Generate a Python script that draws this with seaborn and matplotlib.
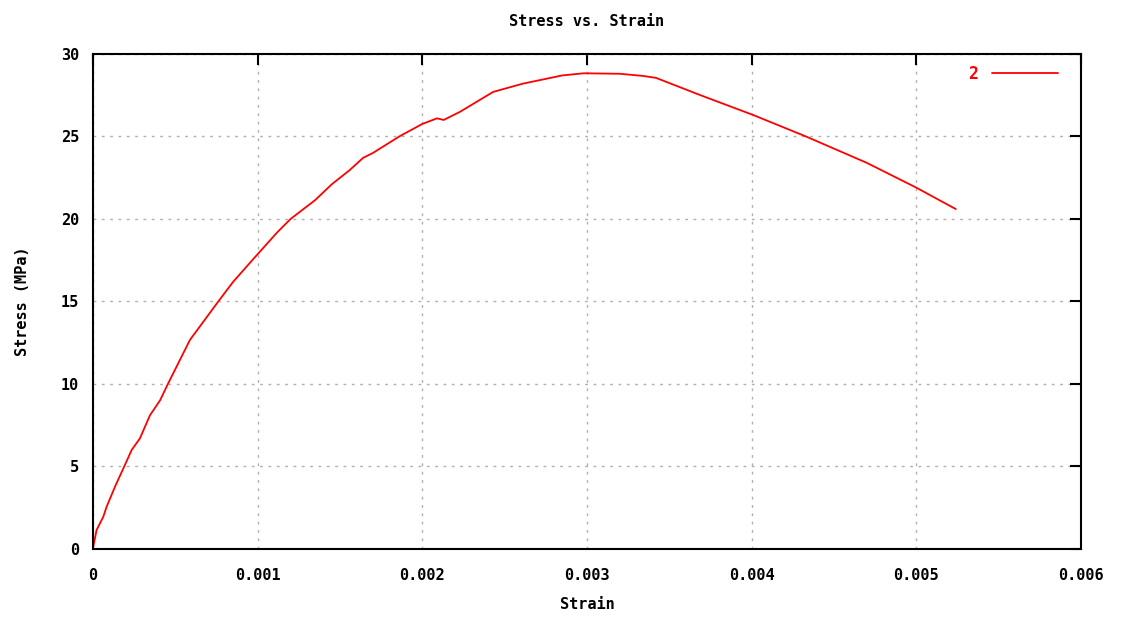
import pandas as pd
import matplotlib
matplotlib.use("Agg")
import matplotlib.pyplot as plt
import seaborn as sns

# data
strain = [0, 0.000002, 0.000022, 0.000063, 0.000083, 0.000134, 0.000194, 0.000235,
          0.000285, 0.000346, 0.000407, 0.000457, 0.000589, 0.000761, 0.000852,
          0.000994, 0.00112, 0.0012, 0.00135, 0.00145, 0.00156, 0.00164, 0.0017,
          0.00186, 0.002, 0.00209, 0.00213, 0.00223, 0.00243, 0.00261, 0.00285,
          0.00298, 0.0032, 0.00334, 0.00342, 0.00369, 0.00401, 0.00433, 0.0047,
          0.005, 0.00524]
stress = [0, 0.14, 1.15, 1.96, 2.56, 3.78, 5.09, 6.0, 6.7, 8.1, 9.0, 10.04, 12.67,
          15.0, 16.2, 17.8, 19.2, 20.0, 21.15, 22.1, 22.97, 23.7, 24.0, 25.0, 25.76,
          26.1, 26.0, 26.5, 27.7, 28.2, 28.7, 28.83, 28.8, 28.67, 28.55, 27.5, 26.3,
          25.0, 23.4, 21.9, 20.6]
x_ticks = [0, 0.001, 0.002, 0.003, 0.004, 0.005, 0.006]
x_labels = ["0", "0.001", "0.002", "0.003", "0.004", "0.005", "0.006"]
y_ticks = [0, 5, 10, 15, 20, 25, 30]

df = pd.DataFrame({"Strain": strain, "Stress": stress, "series": "2"})

sns.set_style("white")
plt.rcParams['font.family'] = ['DejaVu Sans Mono', 'DejaVu Sans']
plt.rcParams['font.weight'] = 'bold'
plt.rcParams['text.color'] = 'black'
plt.rcParams['axes.labelcolor'] = 'black'

fig = plt.figure(figsize=(11.24, 6.19), dpi=100)
ax = fig.add_axes([0.0827, 0.1131, 0.879, 0.7997])

sns.lineplot(data=df, x="Strain", y="Stress", hue="series", palette=["#ff0000"],
             linewidth=1.3, sort=False, estimator=None, ax=ax)

ax.set_xlim(0, 0.006)
ax.set_ylim(0, 30)
ax.set_xticks(x_ticks)
ax.set_xticklabels(x_labels)
ax.set_yticks(y_ticks)
ax.grid(True, color="#b0b0b0", linestyle=(0, (2, 4)), linewidth=1.0)
ax.tick_params(direction="in", length=8, width=1.5, top=True, right=True,
               labelsize=11, colors="black")
ax.tick_params(axis="x", pad=14)
ax.tick_params(axis="y", pad=10)
for s in ax.spines.values():
    s.set_color("black")
    s.set_linewidth(1.5)

ax.set_title("Stress vs. Strain", fontsize=11, fontweight="bold", pad=20, color="black")
ax.set_xlabel("Strain", fontsize=11, fontweight="bold", labelpad=10)
ax.set_ylabel("Stress (MPa)", fontsize=11, fontweight="bold", labelpad=22)

leg = ax.legend(loc="upper right", frameon=False, fontsize=12, handlelength=4,
                markerfirst=False, borderaxespad=0.6, title=None,
                bbox_to_anchor=(1 - 6 / 988, 1 + 6 / 495))
for t in leg.get_texts():
    t.set_color("#ff0000")
    t.set_fontweight("bold")

fig.savefig("out.png", dpi=100)
